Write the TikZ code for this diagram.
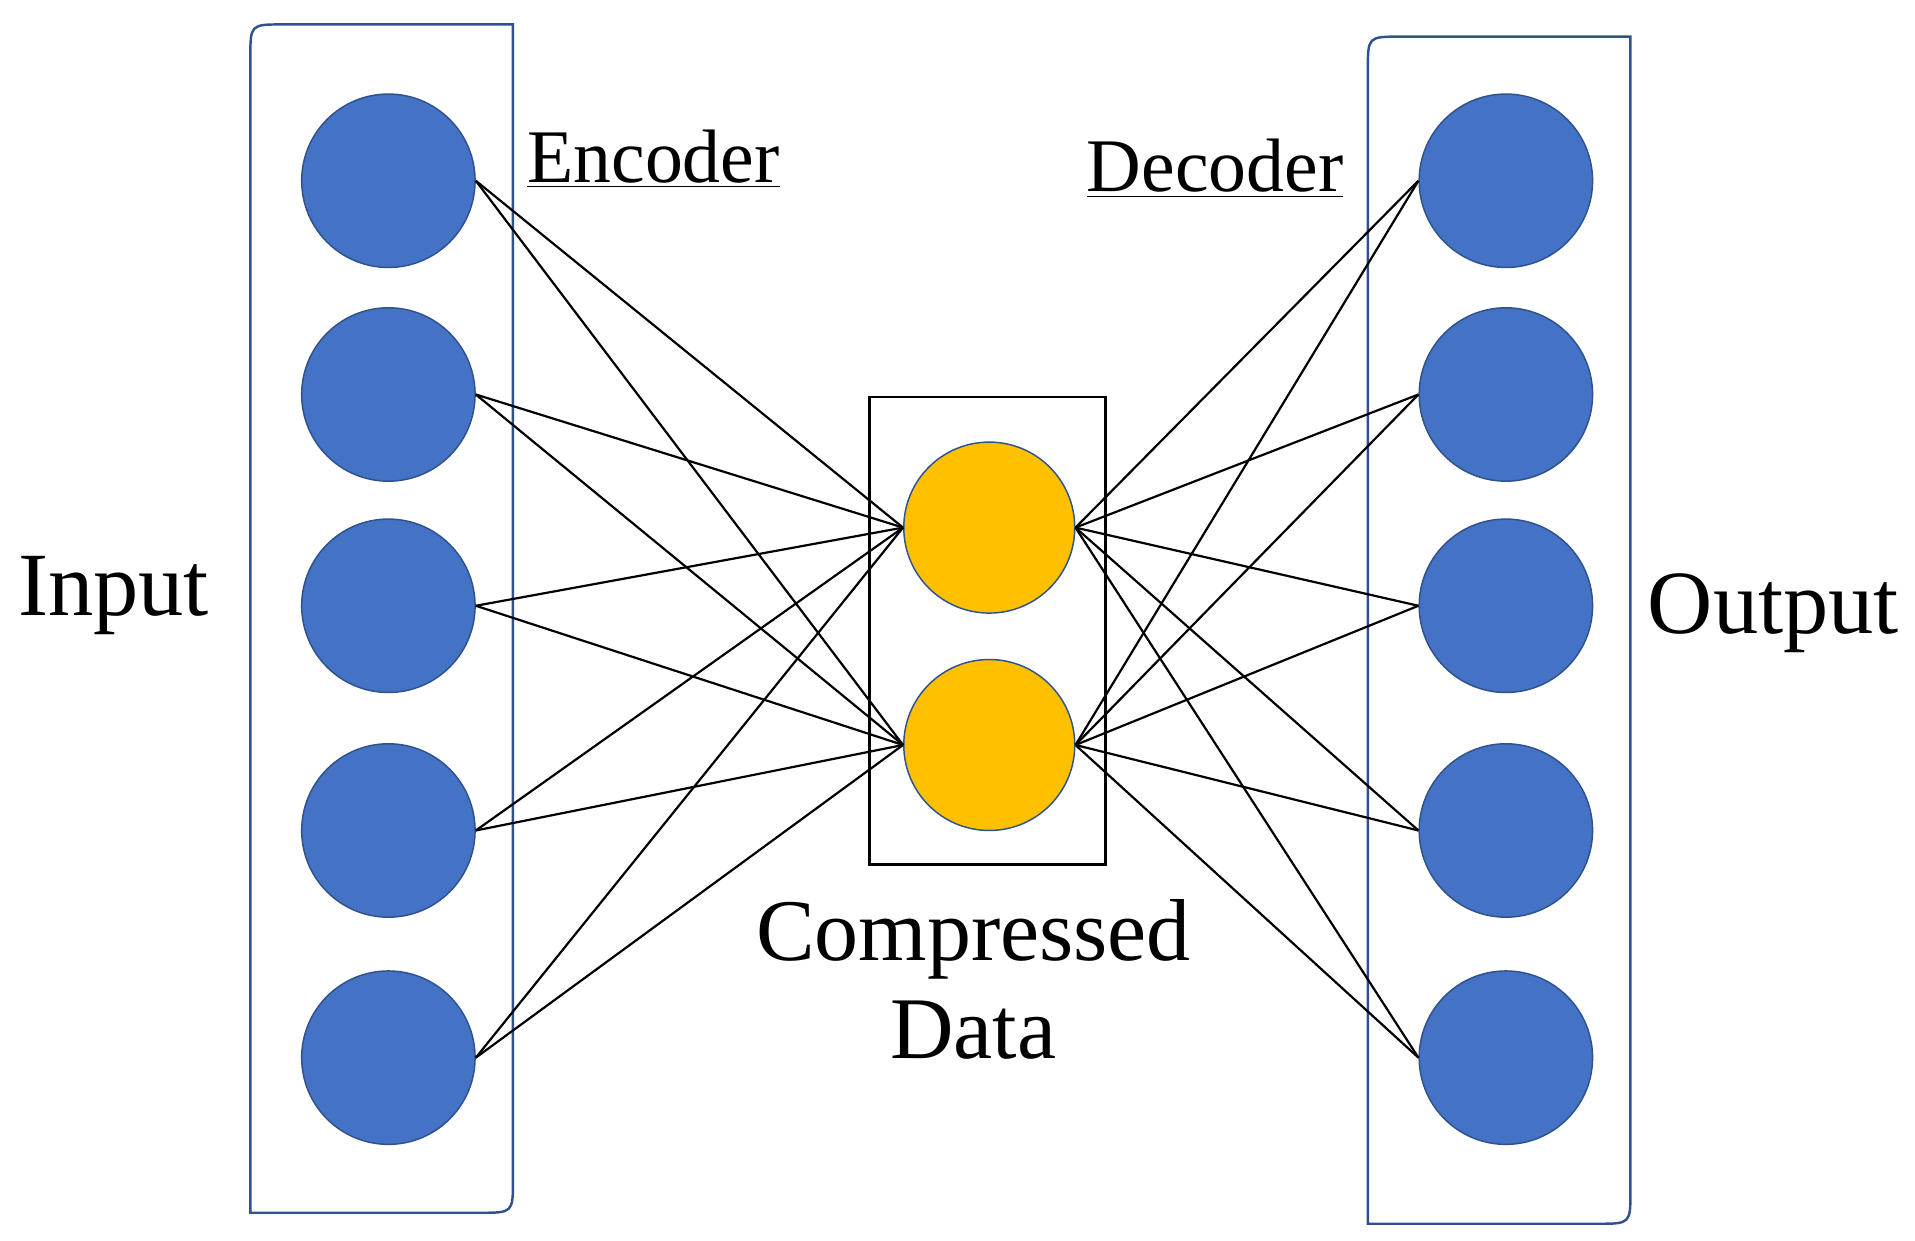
\documentclass[tikz,border=0pt]{standalone}
\usepackage{fontspec}
\setmainfont{Liberation Serif}
\definecolor{nblue}{HTML}{4472C4}
\definecolor{nedge}{HTML}{2F528F}
\definecolor{nyel}{HTML}{FFC000}
\begin{document}
\begin{tikzpicture}[x=0.5pt,y=-0.5pt,
  blu/.style={circle,fill=nblue,draw=nedge,line width=0.6pt,minimum size=71pt,inner sep=0},
  yel/.style={circle,fill=nyel,draw=nedge,line width=0.6pt,minimum size=70pt,inner sep=0},
  conn/.style={black,line width=0.9pt},
  box/.style={draw=nedge,line width=1pt}]
\useasboundingbox (0,0) rectangle (1568,1016);
% boxes
\draw[box] (420,20) -- (232,20) .. controls (205,20) .. (205,47) -- (205,993) -- (393,993) .. controls (420,993) .. (420,966) -- cycle;
\draw[box] (1335,30) -- (1147,30) .. controls (1120,30) .. (1120,57) -- (1120,1002) -- (1308,1002) .. controls (1335,1002) .. (1335,975) -- cycle;
\draw[black,line width=1pt] (712,325) rectangle (905,708);
% nodes
\foreach \i/\y in {1/148,2/323,3/496,4/680,5/866}{
  \node[blu] (l\i) at (318,\y) {};
  \node[blu] (r\i) at (1233,\y) {};
}
\node[yel] (c1) at (810,432) {};
\node[yel] (c2) at (810,610) {};
% connectors
\foreach \i in {1,...,5}{\foreach \j in {1,2}{
  \draw[conn] (l\i.east) -- (c\j.west);
  \draw[conn] (c\j.east) -- (r\i.west);
}}
% labels
\node[font=\fontsize{31}{35}\selectfont] (enc) at (535,130) {\underline{Encoder}};
\node[font=\fontsize{31}{35}\selectfont] (dec) at (995,138) {\underline{Decoder}};
\node[font=\fontsize{37}{40}\selectfont] (inp) at (93,488) {Input};
\node[font=\fontsize{37}{40}\selectfont] (out) at (1452,502) {Output};
\node[font=\fontsize{36}{40}\selectfont,align=center] (cmp) at (797,802) {Compressed\\Data};
\end{tikzpicture}
\end{document}
